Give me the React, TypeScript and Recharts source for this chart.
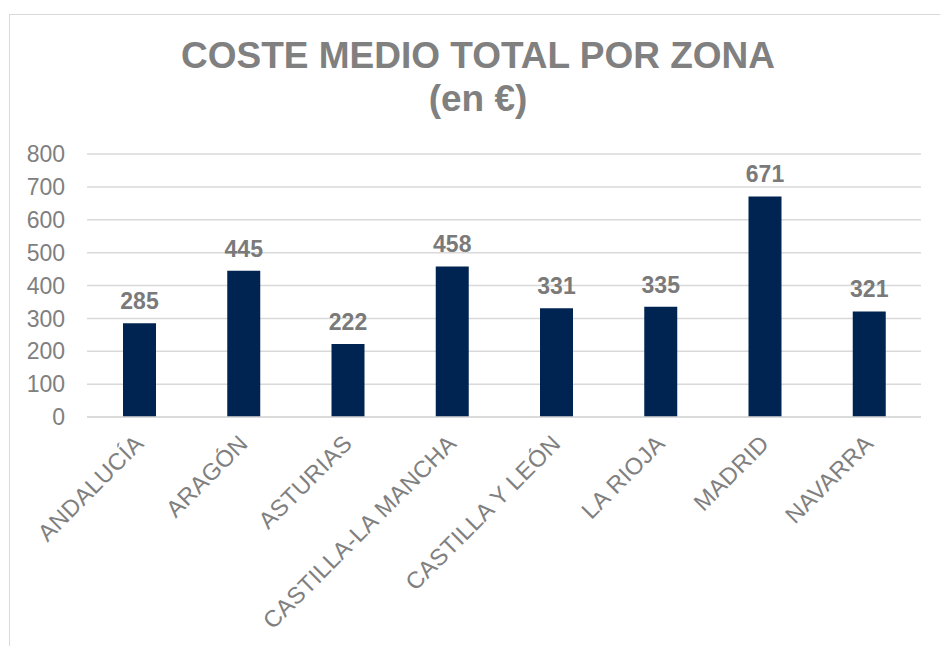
import React from "react";
import { BarChart, Bar, XAxis, YAxis, CartesianGrid, LabelList } from "recharts";

const zonas = [
  "ANDALUCÍA",
  "ARAGÓN",
  "ASTURIAS",
  "CASTILLA-LA MANCHA",
  "CASTILLA Y LEÓN",
  "LA RIOJA",
  "MADRID",
  "NAVARRA",
];
const costeMedio = [285, 445, 222, 458, 331, 335, 671, 321];
const yTicks = [0, 100, 200, 300, 400, 500, 600, 700, 800];

const data = zonas.map((zona, i) => ({ zona, coste: costeMedio[i] }));

const FONT = "'Liberation Sans', Arial, sans-serif";
const GREY = "#808080";

function ZonaTick(props: any) {
  const { x, y, payload } = props;
  const ax = x + 6;
  const ay = y + 20;
  return (
    <text
      x={ax}
      y={ay}
      transform={`rotate(-45, ${ax}, ${ay})`}
      textAnchor="end"
      fill={GREY}
      fontSize={23.5}
      letterSpacing={0.4}
      fontFamily={FONT}
    >
      {payload.value}
    </text>
  );
}

export default function App() {
  return (
    <div style={{ position: "absolute", left: 0, top: 0, width: 940, height: 646, background: "#fff", overflow: "hidden" }}>
      <div
        style={{
          position: "absolute",
          left: 9,
          top: 14,
          width: 960,
          height: 660,
          border: "1px solid #d9d9d9",
        }}
      />
      <div
        style={{
          position: "absolute",
          left: 0,
          top: 34,
          width: 956,
          textAlign: "center",
          fontFamily: FONT,
          fontWeight: "bold",
          fontSize: 37,
          lineHeight: "43px",
          color: GREY,
        }}
      >
        COSTE MEDIO TOTAL POR ZONA
        <br />
        (en €)
      </div>
      <BarChart
        width={940}
        height={646}
        data={data}
        margin={{ top: 154, right: 19, left: 0, bottom: 0 }}
        style={{ position: "absolute", left: 0, top: 0 }}
      >
        <CartesianGrid vertical={false} stroke="#d9d9d9" strokeWidth={1.5} />
        <XAxis
          dataKey="zona"
          interval={0}
          height={229}
          tick={<ZonaTick />}
          tickLine={false}
          axisLine={{ stroke: "#d9d9d9", strokeWidth: 1.5 }}
        />
        <YAxis
          domain={[0, 800]}
          ticks={yTicks}
          width={87}
          axisLine={false}
          tickLine={false}
          tick={{ fill: GREY, fontSize: 23, fontFamily: FONT }}
          tickMargin={16}
        />
        <Bar dataKey="coste" fill="#002451" barSize={33} isAnimationActive={false}>
          <LabelList
            dataKey="coste"
            position="top"
            offset={14}
            fill="#7a7a7a"
            fontSize={23}
            fontWeight="bold"
            fontFamily={FONT}
          />
        </Bar>
      </BarChart>
    </div>
  );
}
